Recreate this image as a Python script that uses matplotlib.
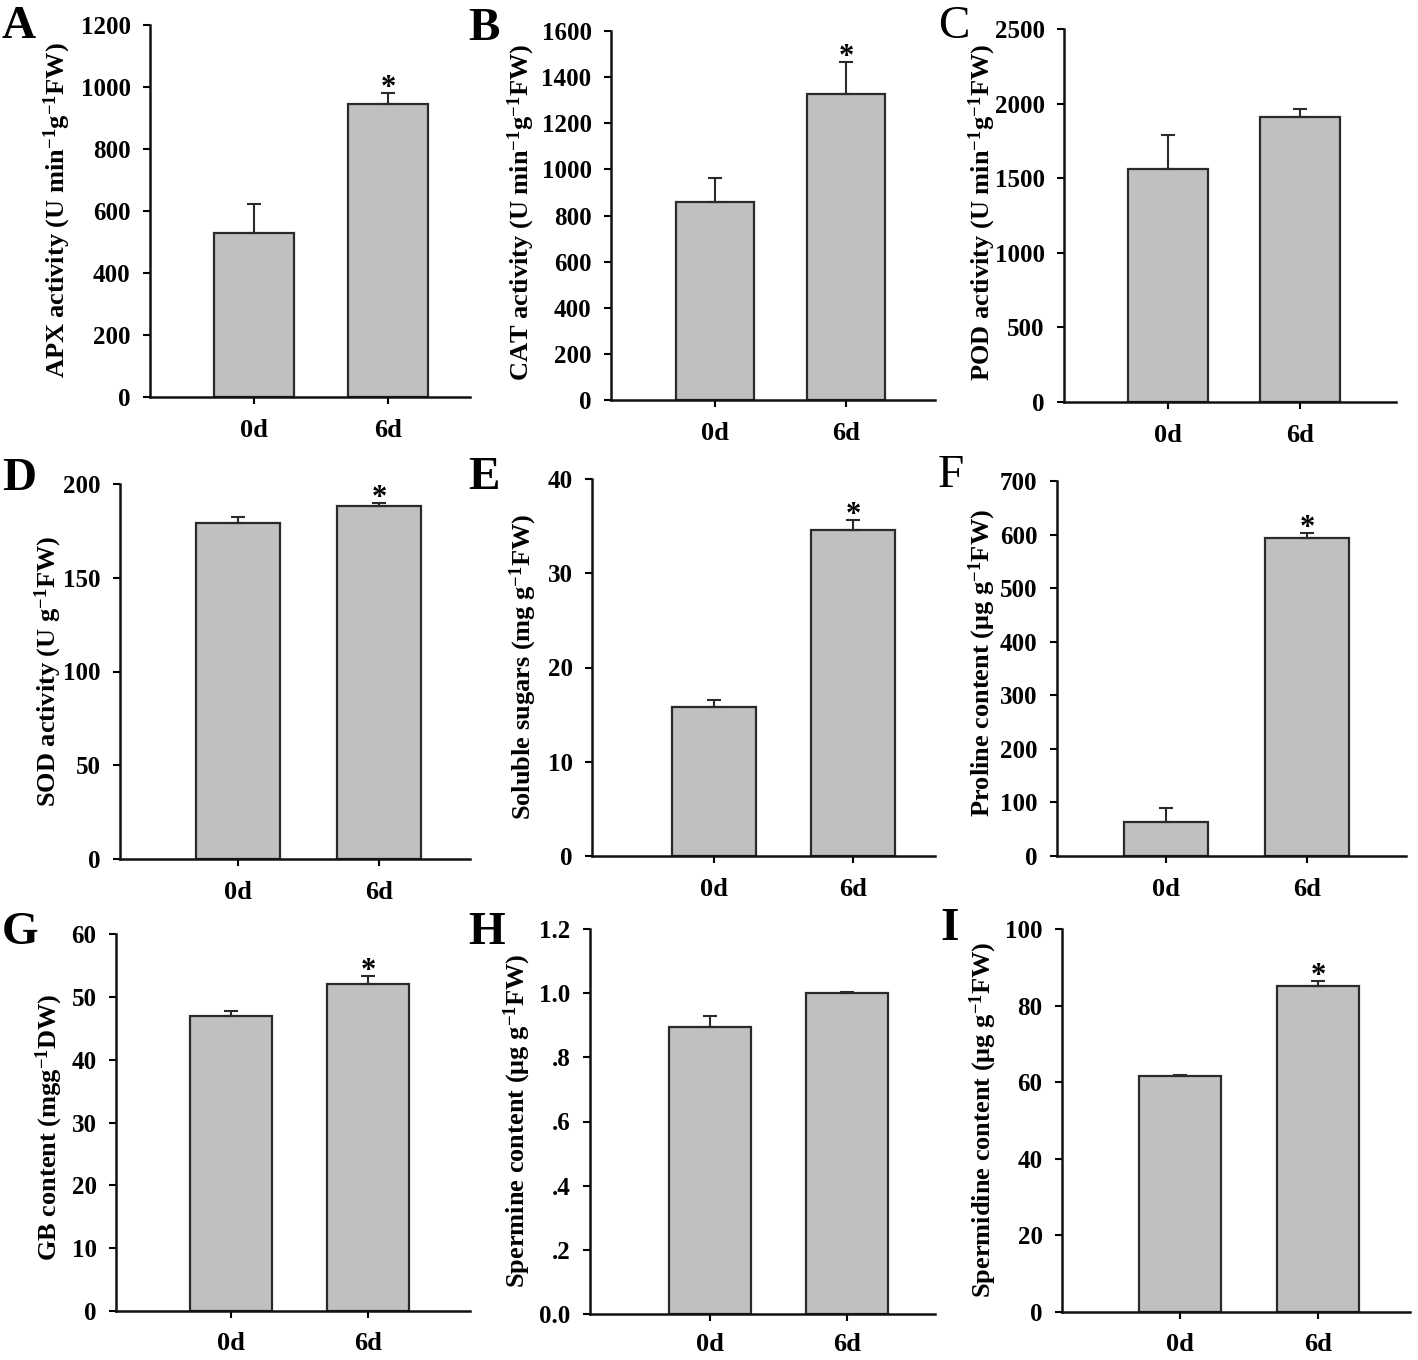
import matplotlib
matplotlib.use("Agg")
import matplotlib.pyplot as plt
import numpy as np

plt.rcParams['font.family'] = ['Liberation Serif', 'DejaVu Serif']
plt.rcParams['font.weight'] = 'bold'
plt.rcParams['mathtext.fontset'] = 'custom'
plt.rcParams['mathtext.rm'] = 'Liberation Serif:bold'
plt.rcParams['mathtext.it'] = 'Liberation Serif:bold'
plt.rcParams['mathtext.bf'] = 'Liberation Serif:bold'
plt.rcParams['mathtext.default'] = 'rm'

# ---------------- data ----------------
categories = ['0d', '6d']

apx = [530, 945]
apx_err = [92, 35]
cat = [860, 1327]
cat_err = [102, 139]
pod = [1562, 1910]
pod_err = [228, 54]
sod = [179.2, 188.4]
sod_err = [3.2, 1.4]
sugars = [15.84, 34.6]
sugars_err = [0.66, 1.05]
proline = [63, 594]
proline_err = [27, 9]
gb = [47.0, 52.0]
gb_err = [0.8, 1.3]
spermine = [0.894, 1.0]
spermine_err = [0.034, 0.005]
spermidine = [61.6, 85.2]
spermidine_err = [0.3, 1.2]

letters = ['A', 'B', 'C', 'D', 'E', 'F', 'G', 'H', 'I']
ylabels = [
    r'APX activity (U min$^{-1}$g$^{-1}$FW)',
    r'CAT activity (U min$^{-1}$g$^{-1}$FW)',
    r'POD activity (U min$^{-1}$g$^{-1}$FW)',
    r'SOD activity (U g$^{-1}$FW)',
    r'Soluble sugars (mg g$^{-1}$FW)',
    r'Proline content (μg g$^{-1}$FW)',
    r'GB content (mgg$^{-1}$DW)',
    r'Spermine content (μg g$^{-1}$FW)',
    r'Spermidine content (μg g$^{-1}$FW)',
]
values = [apx, cat, pod, sod, sugars, proline, gb, spermine, spermidine]
errors = [apx_err, cat_err, pod_err, sod_err, sugars_err, proline_err,
          gb_err, spermine_err, spermidine_err]
significant = [True, True, False, True, True, True, True, False, True]
yticks = [
    [0, 200, 400, 600, 800, 1000, 1200],
    [0, 200, 400, 600, 800, 1000, 1200, 1400, 1600],
    [0, 500, 1000, 1500, 2000, 2500],
    [0, 50, 100, 150, 200],
    [0, 10, 20, 30, 40],
    [0, 100, 200, 300, 400, 500, 600, 700],
    [0, 10, 20, 30, 40, 50, 60],
    [0.0, 0.2, 0.4, 0.6, 0.8, 1.0, 1.2],
    [0, 20, 40, 60, 80, 100],
]
spermine_ticklabels = ['0.0', '.2', '.4', '.6', '.8', '1.0', '1.2']

# ---------------- layout (pixels) ----------------
W, H = 1418, 1360
# axis_x, zero_y, top_y, center0, center1, end_x
geom = [
    (150, 397, 25, 254, 388, 470),
    (611, 400, 31, 715, 846, 935),
    (1064, 402, 29, 1168, 1300, 1396),
    (120, 859, 484, 238, 379, 470),
    (592, 856, 479, 714, 853, 935),
    (1057, 856, 481, 1166, 1307, 1406),
    (116, 1311, 934, 231, 368, 470),
    (590, 1314, 929, 710, 847, 935),
    (1062, 1312, 929, 1180, 1318, 1410),
]
label_pos = [(57, 210), (521, 212), (982, 212), (48, 671), (523, 667),
             (982, 663), (49, 1127), (517, 1121), (983, 1120)]
letter_pos = [(2, 6), (468, 8), (938, 6), (2, 458), (468, 457), (938, 455),
              (2, 912), (468, 912), (940, 908)]
letter_bold = [True, True, False, True, True, False, True, True, True]
xpads = [11, 11, 11, 11, 11, 11, 10, 8.5, 10]

fig = plt.figure(figsize=(W / 100, H / 100), dpi=100)

for i in range(9):
    ax_x, zy, ty, c0, c1, ex = geom[i]
    left = ax_x / W
    bottom = 1 - zy / H
    width = (ex - ax_x) / W
    height = (zy - ty) / H
    ax = fig.add_axes([left, bottom, width, height])
    sp = c1 - c0
    ax.set_xlim((ax_x - c0) / sp, (ex - c0) / sp)
    yt = yticks[i]
    ax.set_ylim(0, yt[-1])
    x = np.arange(len(categories))
    vals = values[i]
    errs = errors[i]
    ax.bar(x, vals, width=0.6, color='#c0c0c0', edgecolor='#2a2a2a',
           linewidth=1.6, zorder=2)
    ax.errorbar(x, vals, yerr=[np.zeros(len(vals)), errs], fmt='none',
                ecolor='#2a2a2a', elinewidth=1.5, capsize=5, capthick=1.5,
                zorder=3)
    if significant[i]:
        ax.annotate('*', xy=(1, vals[1] + errs[1]), xytext=(0, -7),
                    textcoords='offset points', ha='center', va='bottom',
                    fontsize=22, fontweight='bold', annotation_clip=False)
    ax.set_xticks(x)
    ax.set_xticklabels(categories)
    ax.set_yticks(yt)
    if i == 7:
        ax.set_yticklabels(spermine_ticklabels)
    for s in ['top', 'right']:
        ax.spines[s].set_visible(False)
    for s in ['left', 'bottom']:
        ax.spines[s].set_linewidth(1.8)
        ax.spines[s].set_color('#111111')
    ax.tick_params(axis='y', direction='out', length=5, width=1.5,
                   labelsize=18, pad=9)
    ax.tick_params(axis='x', direction='out', length=5, width=1.5,
                   labelsize=19, pad=xpads[i])
    for lab in ax.get_xticklabels() + ax.get_yticklabels():
        lab.set_fontweight('bold')
    lx, ly = label_pos[i]
    fig.text(lx / W, 1 - ly / H, ylabels[i], rotation=90, ha='center',
             va='center', fontsize=19, fontweight='bold')
    tx, tyy = letter_pos[i]
    fig.text(tx / W, 1 - tyy / H, letters[i], ha='left', va='top',
             fontsize=34, fontweight='bold' if letter_bold[i] else 'normal')

fig.savefig('out.png', dpi=100, facecolor='white')
